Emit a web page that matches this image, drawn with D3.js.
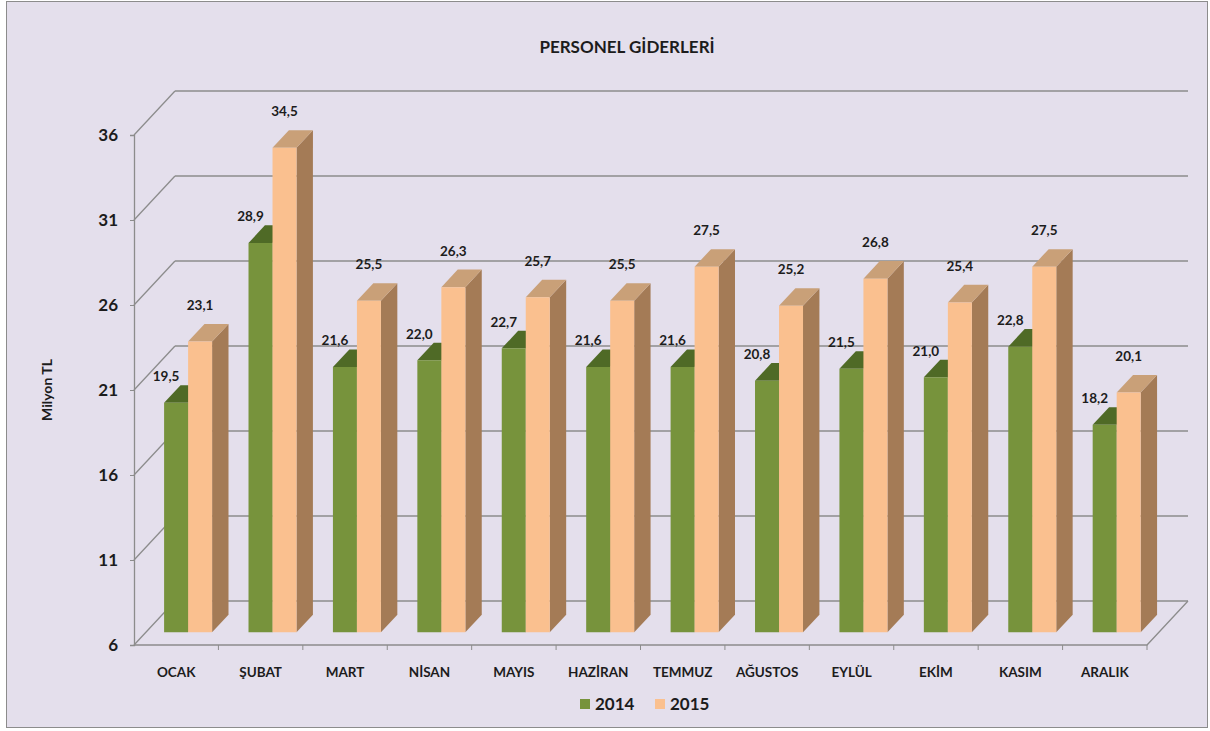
<!DOCTYPE html>
<html>
<head>
<meta charset="utf-8">
<script src="https://cdn.jsdelivr.net/npm/d3@7"></script>
<style>
  body { margin: 0; background: #ffffff; }
  text { font-family: Lato, "Open Sans", sans-serif; font-weight: bold; fill: #1c1c1c; }
</style>
</head>
<body>
<svg id="chart"></svg>
<script>
// Chart data
const months = ['OCAK', 'ŞUBAT', 'MART', 'NİSAN', 'MAYIS', 'HAZİRAN', 'TEMMUZ', 'AĞUSTOS', 'EYLÜL', 'EKİM', 'KASIM', 'ARALIK'];
const years = ['2014', '2015'];
const values2014 = [19.5, 28.9, 21.6, 22.0, 22.7, 21.6, 21.6, 20.8, 21.5, 21.0, 22.8, 18.2];
const values2015 = [23.1, 34.5, 25.5, 26.3, 25.7, 25.5, 27.5, 25.2, 26.8, 25.4, 27.5, 20.1];
const yTicks = [6, 11, 16, 21, 26, 31, 36];

const WIDTH = 1210;
const HEIGHT = 731;

const fmt = v => v.toFixed(1).replace('.', ',');

// 3d look: the back wall is shifted by depthX / depthY
const depthX = 41;
const depthY = 44;
const barD0 = 0.29;
const barD1 = 0.69;
const barWidth = 24;

const colors = {
    '2014': { front: '#77933c', top: '#4f6a26', side: '#5d7a2e' },
    '2015': { front: '#fac08f', top: '#c9a078', side: '#a47b56' }
};

let svg = d3.select('#chart')
    .attr('width', WIDTH)
    .attr('height', HEIGHT);

svg.append('rect')
    .attr('x', 6.5).attr('y', 1.5)
    .attr('width', 1201).attr('height', 726)
    .attr('fill', '#e4dfec')
    .attr('stroke', '#8c8c8c');

let xScale = d3.scaleBand()
    .domain(months)
    .range([134, 1147]);

let seriesScale = d3.scaleBand()
    .domain(years)
    .range([-barWidth, barWidth]);

let yScale = d3.scaleLinear()
    .domain([6, 36])
    .range([645, 135]);

// point on the plane at depth d (0 = front, 1 = back wall)
function proj(x, v, d) {
    return [x + d * depthX, yScale(v) - d * depthY];
}
const pts = arr => arr.map(p => p.join(',')).join(' ');

let grid = svg.append('g').attr('class', 'grid');
const x0 = xScale.range()[0], x1 = xScale.range()[1];

// back wall lines and side wall diagonals
yTicks.forEach(v => {
    let a = proj(x0, v, 1), b = proj(x1, v, 1), c = proj(x0, v, 0);
    grid.append('line')
        .attr('x1', a[0]).attr('y1', a[1]).attr('x2', b[0]).attr('y2', b[1])
        .attr('stroke', '#8c8c8c').attr('stroke-width', 1.3);
    grid.append('line')
        .attr('x1', c[0]).attr('y1', c[1]).attr('x2', a[0]).attr('y2', a[1])
        .attr('stroke', '#8c8c8c').attr('stroke-width', 1.3);
});

// floor outline
let fl = [proj(x0, 6, 0), proj(x1, 6, 0), proj(x1, 6, 1)];
grid.append('polyline')
    .attr('points', pts(fl))
    .attr('fill', 'none')
    .attr('stroke', '#8c8c8c').attr('stroke-width', 1.3);

// y axis
let yAxis = d3.axisLeft(yScale)
    .tickValues(yTicks)
    .tickSize(4)
    .tickPadding(12);
let yAxisG = svg.append('g')
    .attr('transform', `translate(${x0}, 0)`)
    .call(yAxis);
yAxisG.select('.domain').attr('stroke', '#8c8c8c').attr('stroke-width', 1.3);
yAxisG.selectAll('.tick line').attr('stroke', '#8c8c8c');
yAxisG.selectAll('.tick text')
    .style('font-size', '17px')
    .attr('fill', '#1c1c1c');

// x axis: ticks on the category boundaries
let xAxisG = svg.append('g').attr('class', 'x-axis');
months.forEach((m, i) => {
    let x = xScale(m) + xScale.bandwidth();
    xAxisG.append('line')
        .attr('x1', x).attr('x2', x)
        .attr('y1', 645).attr('y2', 650)
        .attr('stroke', '#8c8c8c');
});
xAxisG.selectAll('.cat')
    .data(months)
    .enter().append('text')
    .attr('class', 'cat')
    .attr('x', d => xScale(d) + xScale.bandwidth() / 2)
    .attr('y', 677)
    .attr('text-anchor', 'middle')
    .style('font-size', '13.5px')
    .text(d => d);

// bars
let bars = [];
months.forEach((m, i) => {
    bars.push({ month: m, year: '2014', value: values2014[i] });
    bars.push({ month: m, year: '2015', value: values2015[i] });
});

let barG = svg.append('g').attr('class', 'bars');
bars.forEach(b => {
    let xl = xScale(b.month) + xScale.bandwidth() / 2 + seriesScale(b.year);
    let xr = xl + barWidth;
    let c = colors[b.year];
    let g = barG.append('g');
    g.append('polygon')
        .attr('points', pts([proj(xr, b.value, barD0), proj(xr, b.value, barD1), proj(xr, 6, barD1), proj(xr, 6, barD0)]))
        .attr('fill', c.side);
    g.append('polygon')
        .attr('points', pts([proj(xl, b.value, barD0), proj(xr, b.value, barD0), proj(xr, b.value, barD1), proj(xl, b.value, barD1)]))
        .attr('fill', c.top);
    g.append('polygon')
        .attr('points', pts([proj(xl, b.value, barD0), proj(xr, b.value, barD0), proj(xr, 6, barD0), proj(xl, 6, barD0)]))
        .attr('fill', c.front);
});

// value labels
svg.append('g').selectAll('text')
    .data(bars)
    .enter().append('text')
    .attr('x', d => {
        let xl = xScale(d.month) + xScale.bandwidth() / 2 + seriesScale(d.year);
        return proj(xl + barWidth / 2, d.value, barD0)[0] + (d.year === '2014' ? -10 : 0);
    })
    .attr('y', d => proj(0, d.value, barD1)[1] - (d.year === '2014' ? 4 : 14))
    .attr('text-anchor', 'middle')
    .style('font-size', '13.5px')
    .text(d => fmt(d.value));

// title
svg.append('text')
    .attr('x', 627).attr('y', 53)
    .attr('text-anchor', 'middle')
    .style('font-size', '17px')
    .text('PERSONEL GİDERLERİ');

// y axis title
svg.append('text')
    .attr('transform', 'translate(52, 390) rotate(-90)')
    .attr('text-anchor', 'middle')
    .style('font-size', '14px')
    .text('Milyon TL');

// legend
let legend = svg.append('g').attr('class', 'legend');
years.forEach((yr, i) => {
    let lx = 580 + i * 75;
    legend.append('rect')
        .attr('x', lx).attr('y', 699)
        .attr('width', 10).attr('height', 10)
        .attr('fill', colors[yr].front);
    legend.append('text')
        .attr('x', lx + 15).attr('y', 710)
        .style('font-size', '17px')
        .text(yr);
});
</script>
</body>
</html>
